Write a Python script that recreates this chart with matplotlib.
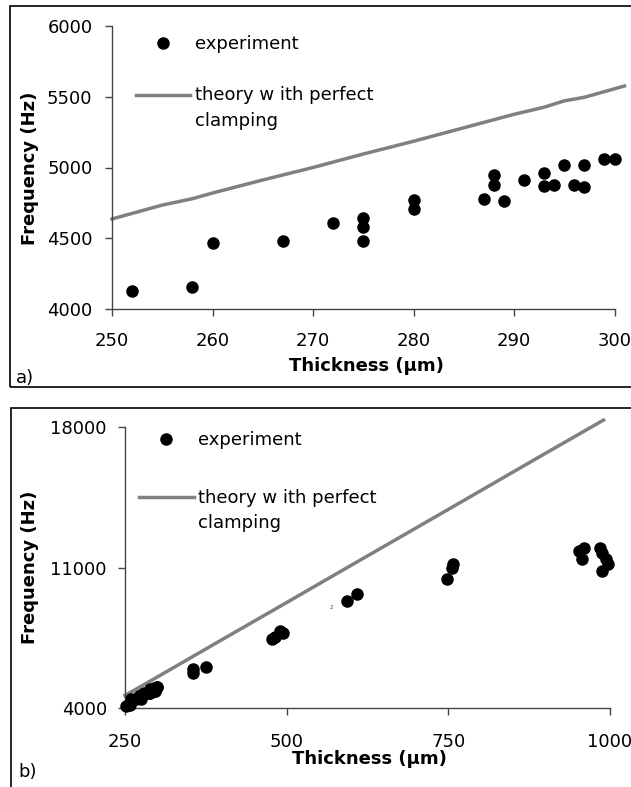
import matplotlib
matplotlib.use("Agg")
import matplotlib.pyplot as plt
import numpy as np
from matplotlib.patches import Rectangle
from matplotlib.legend_handler import HandlerLine2D

# panel a) data, thickness in um, frequency in Hz
thick_a = [252, 258, 260, 267, 272, 275, 275, 275, 280, 280, 287, 288, 288, 289,
           291, 293, 293, 294, 295, 296, 297, 297, 299, 300]
freq_a = [4132, 4160, 4470, 4484, 4611, 4642, 4583, 4484, 4771, 4707, 4778, 4949,
          4877, 4766, 4910, 4963, 4870, 4877, 5020, 4877, 5020, 4865, 5060, 5060]

theory_thick_a = [250, 255, 258, 260, 265, 270, 275, 280, 285, 290, 293, 295, 297, 300, 301]
theory_freq_a = [4637, 4735, 4780, 4820, 4912, 5000, 5095, 5185, 5280, 5375, 5425,
                 5470, 5495, 5555, 5575]

# panel b) extra thick samples (the thin ones are the same as in a)
thick_b_extra = [355, 355, 375, 477, 482, 490, 495, 594, 608, 748, 755, 757,
                 952, 956, 960, 985, 988, 994, 997, 988]
freq_b_extra = [5750, 5950, 6080, 7450, 7550, 7850, 7750, 9350, 9700, 10450, 11000,
                11200, 11850, 11450, 11970, 12000, 11750, 11450, 11200, 10850]
thick_b = thick_a + thick_b_extra
freq_b = freq_a + freq_b_extra

theory_thick_b = [250, 300, 400, 500, 600, 750, 900, 990]
theory_freq_b = [4637, 5560, 7420, 9270, 11130, 13910, 16700, 18360]

W, H = 631, 787
plt.rcParams['font.family'] = 'DejaVu Sans'
plt.rcParams['font.size'] = 13

fig = plt.figure(figsize=(W / 100, H / 100), dpi=100)


def px(x, y):
    return x / W, 1 - y / H


class FirstLineHandler(HandlerLine2D):
    # put the line handle next to the first line of a two-line label
    def create_artists(self, *args, **kw):
        arts = super().create_artists(*args, **kw)
        for a in arts:
            a.set_ydata(np.asarray(a.get_ydata()) + 10)
        return arts


def setup(ax, xticks, yticks, xlim, ylim, xpad, ypad):
    ax.set_xlim(*xlim)
    ax.set_ylim(*ylim)
    ax.set_xticks(xticks)
    ax.set_yticks(yticks)
    for s in ['top', 'right']:
        ax.spines[s].set_visible(False)
    for s in ['left', 'bottom']:
        ax.spines[s].set_color('#444444')
        ax.spines[s].set_linewidth(1.0)
    ax.tick_params(axis='x', direction='out', length=5, width=1, color='#444444', pad=xpad)
    ax.tick_params(axis='y', direction='out', length=5, width=1, color='#444444', pad=ypad)


def legend(ax, theory_line, x0, y0, spacing):
    leg = ax.legend(loc='upper left', bbox_to_anchor=(x0, y0), frameon=False,
                    handlelength=3.0, handletextpad=0.25, labelspacing=spacing,
                    fontsize=13, borderpad=0,
                    handler_map={theory_line: FirstLineHandler()})
    for t in leg.get_texts():
        t.set_linespacing(1.55)
    return leg


# ---- a)
ax1 = fig.add_axes([112 / W, 1 - 309.3 / H, 502.5 / W, 283.6 / H])
ax1.plot(thick_a, freq_a, 'o', color='black', ms=8, clip_on=False, label='experiment', zorder=3)
line_a, = ax1.plot(theory_thick_a, theory_freq_a, color='#808080', lw=2.5, clip_on=False,
                   label='theory w ith perfect\nclamping')
setup(ax1, range(250, 301, 10), range(4000, 6001, 500), (250, 300), (4000, 6000), 11, 9)
legend(ax1, line_a, 0.03, 0.998, 1.82)
fig.text(*px(366, 366), 'Thickness (µm)', fontweight='bold', ha='center', va='center')
fig.text(*px(30, 168), 'Frequency (Hz)', fontweight='bold', ha='center', va='center', rotation=90)
fig.text(*px(16, 383), 'a)', ha='left', va='baseline')
fig.add_artist(Rectangle(px(10, 387), 1.0, (387 - 6) / H, transform=fig.transFigure,
                         fill=False, ec='black', lw=1.2))

# ---- b)
ax2 = fig.add_axes([125 / W, 1 - 708.3 / H, 485 / W, 281 / H])
ax2.plot(thick_b, freq_b, 'o', color='black', ms=8, clip_on=False, label='experiment', zorder=3)
line_b, = ax2.plot(theory_thick_b, theory_freq_b, color='#808080', lw=2.5, clip_on=False,
                   label='theory w ith perfect\nclamping')
setup(ax2, [250, 500, 750, 1000], [4000, 11000, 18000], (250, 1000), (4000, 18000), 12.5, 8)
legend(ax2, line_b, 0.011, 1.019, 2.2)
ax2.text(569, 9030, '2', fontsize=4, color='#444444', ha='center', va='center')
fig.text(*px(369, 759), 'Thickness (µm)', fontweight='bold', ha='center', va='center')
fig.text(*px(30, 567), 'Frequency (Hz)', fontweight='bold', ha='center', va='center', rotation=90)
fig.text(*px(18, 777), 'b)', ha='left', va='baseline')
fig.add_artist(Rectangle(px(11, 800), 1.0, (800 - 408) / H, transform=fig.transFigure,
                         fill=False, ec='black', lw=1.2))

fig.savefig('out.png', dpi=100)
